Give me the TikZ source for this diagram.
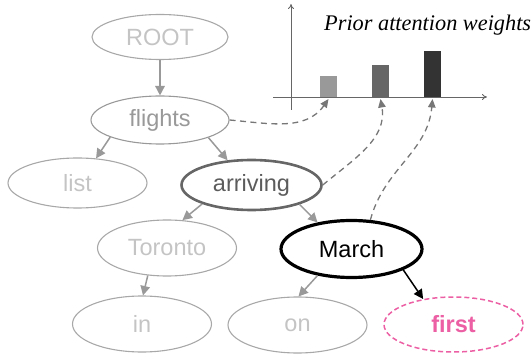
\documentclass[tikz,border=0pt]{standalone}
\usepackage{fontspec}
\setmainfont{Liberation Sans}
\newfontfamily\titlefont{Liberation Serif}
\usetikzlibrary{shapes.geometric,arrows.meta}
\definecolor{lgtext}{HTML}{C4C4C4}
\definecolor{lgline}{HTML}{A8A8A8}
\definecolor{mgray}{HTML}{999999}
\definecolor{dgray}{HTML}{666666}
\definecolor{dashgray}{HTML}{777777}
\definecolor{pinkc}{HTML}{EC5FA4}
\definecolor{bar3c}{HTML}{333333}
\begin{document}
\begin{tikzpicture}[x=1pt,y=-1pt,
  nd/.style={ellipse, draw=lgline, line width=1.1pt, inner sep=0pt,
    minimum width=139pt, minimum height=52pt, text=lgtext,
    font=\fontsize{23.5}{26}\selectfont},
  edge/.style={draw=mgray, line width=1.5pt, -{Triangle[length=9.5pt,width=9.5pt]}},
  attn/.style={draw=dashgray, line width=1.3pt, dash pattern=on 6pt off 4.5pt,
    -{Triangle[length=8.5pt,width=7.5pt]}},
  axis/.style={draw=dgray, line width=0.9pt, -{To[length=5pt,width=6pt]}}]
\useasboundingbox (0,0) rectangle (532,355);
% chart
\draw[axis] (273,97) -- (487,97);
\draw[axis] (291,110) -- (291,4);
\fill[fill=mgray] (320,76) rectangle (337,97);
\fill[fill=dgray] (372,65) rectangle (389,97);
\fill[fill=bar3c] (424,51) rectangle (441,97);
\coordinate (b1) at (328.5,99);
\coordinate (b2) at (380.5,99);
\coordinate (b3) at (432.5,99);
\node[anchor=base west, inner sep=0pt, font=\titlefont\itshape\fontsize{22.3}{24}\selectfont] (title) at (324,31) {Prior attention weights};
% nodes
\node[nd, minimum width=136pt, minimum height=45pt] (root) at (160,37) {ROOT};
\node[nd, minimum width=138pt, minimum height=48pt, draw=mgray, text=mgray] (flights) at (160,120) {flights};
\node[nd, minimum height=50pt] (list) at (77.5,183) {list};
\node[nd, minimum width=140pt, minimum height=50pt, draw=dgray, text=dgray!90!black, line width=2.6pt] (arriving) at (251.5,185) {arriving};
\node[nd, minimum height=56pt] (toronto) at (167,248) {Toronto};
\node[nd, minimum width=141pt, minimum height=57pt, draw=black, text=black, line width=3.2pt] (march) at (351.5,249) {March};
\node[nd, minimum height=56pt] (in) at (142,324) {in};
\node[nd, minimum height=56pt] (on) at (297.5,325) {on};
\node[nd, minimum height=55pt, draw=pinkc, text=pinkc, dash pattern=on 5pt off 3pt, line width=1.5pt, font=\fontsize{23.5}{26}\selectfont\bfseries] (first) at (453.5,324.5) {first};
% tree edges
\draw[edge] (root.south) -- (flights.north);
\draw[edge] (flights.199) -- (list.53);
\draw[edge] (flights.340) -- (arriving.134);
\draw[edge] (arriving.201) -- (toronto.61);
\draw[edge] (arriving.338) -- (march.142);
\draw[edge] (toronto.235) -- (in.88);
\draw[edge] (march.218) -- (on.88);
\draw[edge, draw=black] (march.338) -- (first.140);
% attention arrows
\draw[attn] (flights.east) to[out=-5, in=-125] (b1);
\draw[attn] (arriving.east) to[out=40, in=-80] (b2);
\draw[attn] (march.57) to[out=75, in=-95] (b3);
\end{tikzpicture}
\end{document}
